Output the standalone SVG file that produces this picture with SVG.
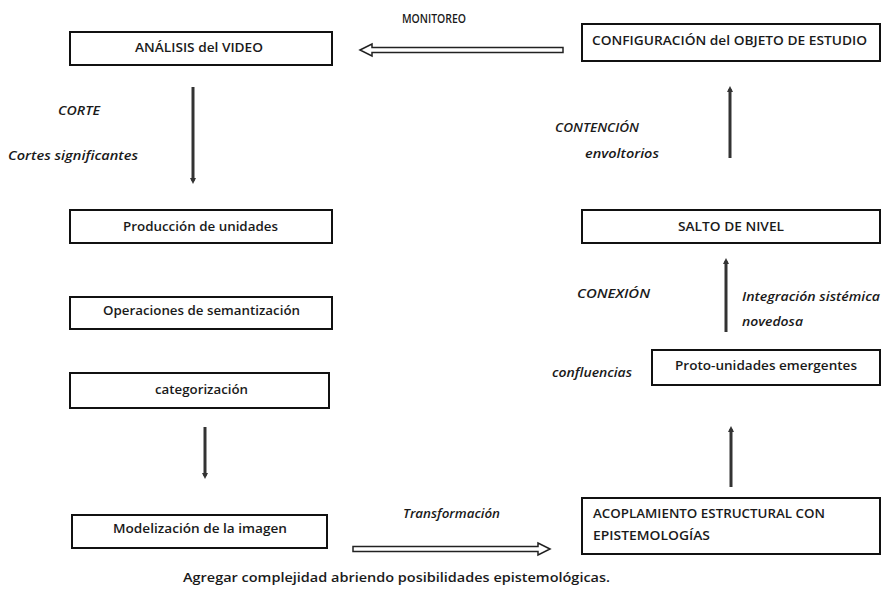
<svg xmlns="http://www.w3.org/2000/svg" width="882" height="608" viewBox="0 0 882 608">
<defs>
<style>
.box{fill:#fff;stroke:#111;stroke-width:2}
.t{font-family:"Open Sans","Liberation Sans",sans-serif;font-size:12px;font-weight:600;fill:#1a1a1a}
.i{font-style:italic}
.v{stroke:#333;stroke-width:3;fill:none}
.h{fill:#fff;stroke:#222;stroke-width:1.5}
</style>
<marker id="ah" viewBox="0 0 6 6" refX="3" refY="3" markerWidth="2" markerHeight="2" orient="auto">
<path d="M0,0 L6,3 L0,6 z" fill="#333"/>
</marker>
</defs>
<rect width="882" height="608" fill="#fff"/>
<g id="connectors">
<line class="v" x1="193" y1="87" x2="193" y2="181" marker-end="url(#ah)"/>
<line class="v" x1="205" y1="427" x2="205" y2="476" marker-end="url(#ah)"/>
<line class="v" x1="730" y1="158" x2="730" y2="89" marker-end="url(#ah)"/>
<line class="v" x1="726" y1="332" x2="726" y2="261" marker-end="url(#ah)"/>
<line class="v" x1="731" y1="487" x2="731" y2="429" marker-end="url(#ah)"/>
<polygon class="h" points="360,50 372,44 372,47.5 563,47.5 563,52.5 372,52.5 372,56"/>
<polygon class="h" points="550,549 538,543 538,546.5 353,546.5 353,551.5 538,551.5 538,555"/>
<text class="t" x="402" y="23" textLength="64" lengthAdjust="spacingAndGlyphs">MONITOREO</text>
<text class="t i" x="58" y="115" textLength="42" lengthAdjust="spacingAndGlyphs">CORTE</text>
<text class="t i" x="8" y="160" textLength="130" lengthAdjust="spacingAndGlyphs">Cortes significantes</text>
<text class="t i" x="555" y="132" textLength="84" lengthAdjust="spacingAndGlyphs">CONTENCIÓN</text>
<text class="t i" x="585" y="158" textLength="74" lengthAdjust="spacingAndGlyphs">envoltorios</text>
<text class="t i" x="577" y="298" textLength="73" lengthAdjust="spacingAndGlyphs">CONEXIÓN</text>
<text class="t i" x="742" y="301" textLength="138" lengthAdjust="spacingAndGlyphs">Integración sistémica</text>
<text class="t i" x="742" y="326" textLength="61" lengthAdjust="spacingAndGlyphs">novedosa</text>
<text class="t i" x="552" y="377" textLength="80" lengthAdjust="spacingAndGlyphs">confluencias</text>
<text class="t i" x="403" y="518" textLength="97" lengthAdjust="spacingAndGlyphs">Transformación</text>
</g>
<g id="analisis"><rect class="box" x="70" y="32" width="262" height="33"/><text class="t" x="135" y="52" textLength="128" lengthAdjust="spacingAndGlyphs">ANÁLISIS del VIDEO</text></g>
<g id="configuracion"><rect class="box" x="582" y="24" width="298" height="37"/><text class="t" x="592" y="45" textLength="275" lengthAdjust="spacingAndGlyphs">CONFIGURACIÓN  del OBJETO DE ESTUDIO</text></g>
<g id="produccion"><rect class="box" x="70" y="210" width="262" height="33"/><text class="t" x="123" y="231" textLength="155" lengthAdjust="spacingAndGlyphs">Producción  de unidades</text></g>
<g id="operaciones"><rect class="box" x="70" y="297" width="262" height="32"/><text class="t" x="103" y="315" textLength="197" lengthAdjust="spacingAndGlyphs">Operaciones  de  semantización</text></g>
<g id="categorizacion"><rect class="box" x="70" y="373" width="259" height="35"/><text class="t" x="155" y="394" textLength="93" lengthAdjust="spacingAndGlyphs">categorización</text></g>
<g id="modelizacion"><rect class="box" x="72" y="515" width="255" height="33"/><text class="t" x="113" y="533" textLength="174" lengthAdjust="spacingAndGlyphs">Modelización   de la imagen</text></g>
<g id="salto"><rect class="box" x="582" y="210" width="298" height="33"/><text class="t" x="678" y="231" textLength="106" lengthAdjust="spacingAndGlyphs">SALTO DE NIVEL</text></g>
<g id="proto"><rect class="box" x="652" y="350" width="228" height="35"/><text class="t" x="675" y="370" textLength="182" lengthAdjust="spacingAndGlyphs">Proto-unidades  emergentes</text></g>
<g id="acoplamiento"><rect class="box" x="582" y="498" width="298" height="56"/><text class="t" x="593" y="518" textLength="232" lengthAdjust="spacingAndGlyphs">ACOPLAMIENTO ESTRUCTURAL CON</text><text class="t" x="593" y="540" textLength="117" lengthAdjust="spacingAndGlyphs">EPISTEMOLOGÍAS</text></g>
<text class="t" x="183" y="582" textLength="427" lengthAdjust="spacingAndGlyphs">Agregar complejidad  abriendo posibilidades epistemológicas.</text>
</svg>
